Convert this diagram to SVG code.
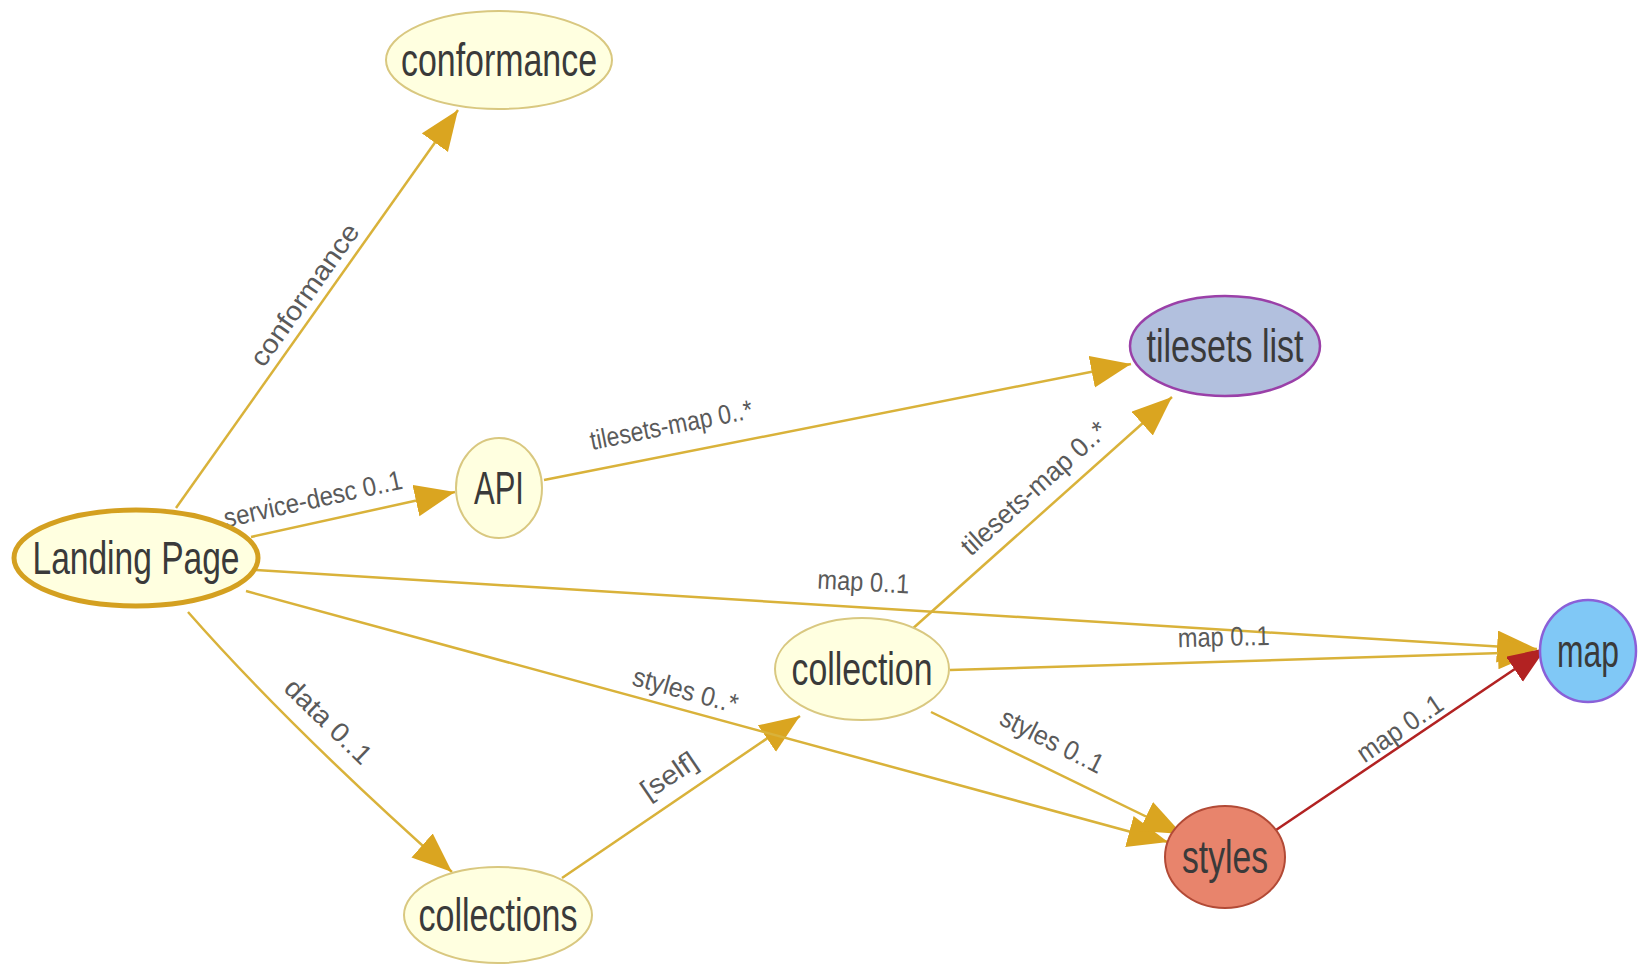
<svg xmlns="http://www.w3.org/2000/svg" width="1640" height="966" viewBox="0 0 1640 966">
<defs>
<marker id="ag" markerUnits="userSpaceOnUse" markerWidth="44" markerHeight="36" refX="40" refY="16" orient="auto">
<path d="M0,0 L40,16 L0,32 Z" fill="#DAA520"/>
</marker>
<marker id="ar" markerUnits="userSpaceOnUse" markerWidth="44" markerHeight="36" refX="38" refY="15" orient="auto">
<path d="M0,0 L38,15 L0,30 Z" fill="#B22222"/>
</marker>
<style>
.e{fill:none;stroke:#D9B23A;stroke-width:2.5;marker-end:url(#ag)}
.er{fill:none;stroke:#B22222;stroke-width:2.5;marker-end:url(#ar)}
.l{font-family:"Liberation Sans",Arial,sans-serif;font-size:27px;fill:#5a5a5a;text-anchor:middle}
.n{fill:#FFFFE0;stroke:#D9C880;stroke-width:2}
.t{font-family:"Liberation Sans",Arial,sans-serif;font-size:46px;fill:#3a3a3a;text-anchor:middle}
</style>
</defs>
<rect width="1640" height="966" fill="#fff"/>
<g id="connectors">
<path class="e" d="M176,508 L458,110"/>
<text class="l" transform="translate(312,300) rotate(-54.7)" textLength="168" lengthAdjust="spacingAndGlyphs">conformance</text>
<path class="e" d="M251,537 L455,492"/>
<text class="l" transform="translate(315,508) rotate(-12.4)" textLength="182" lengthAdjust="spacingAndGlyphs">service-desc 0..1</text>
<path class="e" d="M544,480 L1131,364"/>
<text class="l" transform="translate(673,434) rotate(-11.2)" textLength="165" lengthAdjust="spacingAndGlyphs">tilesets-map 0..*</text>
<path class="e" d="M256,570 L1537,649"/>
<text class="l" transform="translate(863,591) rotate(3)" textLength="92" lengthAdjust="spacingAndGlyphs">map 0..1</text>
<path class="e" d="M950,670 L1538,652"/>
<text class="l" transform="translate(1224,646) rotate(-1.5)" textLength="92" lengthAdjust="spacingAndGlyphs">map 0..1</text>
<path class="e" d="M188,612 Q290,728 452,872"/>
<text class="l" transform="translate(322,728) rotate(44)" textLength="110" lengthAdjust="spacingAndGlyphs">data 0..1</text>
<path class="e" d="M562,878 L800,716"/>
<text class="l" transform="translate(674,783) rotate(-34.2)" textLength="62" lengthAdjust="spacingAndGlyphs">[self]</text>
<path class="e" d="M246,591 L1168,842"/>
<text class="l" transform="translate(683,699) rotate(15.4)" textLength="108" lengthAdjust="spacingAndGlyphs">styles 0..*</text>
<path class="e" d="M910,631 L1172,397"/>
<text class="l" transform="translate(1040,495) rotate(-41.8)" textLength="186" lengthAdjust="spacingAndGlyphs">tilesets-map 0..*</text>
<path class="e" d="M931,712 L1182,834"/>
<text class="l" transform="translate(1048,749) rotate(26.7)" textLength="112" lengthAdjust="spacingAndGlyphs">styles 0..1</text>
<path class="er" d="M1276,830 L1546,648"/>
<text class="l" transform="translate(1405,736) rotate(-34.2)" textLength="98" lengthAdjust="spacingAndGlyphs">map 0..1</text>
</g>
<g id="conformance">
<ellipse class="n" cx="499" cy="60" rx="113" ry="49"/>
<text class="t" x="499" y="76" textLength="196" lengthAdjust="spacingAndGlyphs">conformance</text>
</g>
<g id="tilesets-list">
<ellipse cx="1225" cy="346" rx="95" ry="50" fill="#B2C0DE" stroke="#9A40A8" stroke-width="2.5"/>
<text class="t" x="1225" y="362" textLength="157" lengthAdjust="spacingAndGlyphs">tilesets list</text>
</g>
<g id="api">
<ellipse class="n" cx="499" cy="488" rx="43" ry="50"/>
<text class="t" x="499" y="504" textLength="50" lengthAdjust="spacingAndGlyphs">API</text>
</g>
<g id="landing-page">
<ellipse cx="136" cy="558" rx="122" ry="48" fill="#FFFFE0" stroke="#D4A020" stroke-width="5"/>
<text class="t" x="136" y="574" textLength="207" lengthAdjust="spacingAndGlyphs">Landing Page</text>
</g>
<g id="collection">
<ellipse class="n" cx="862" cy="669" rx="87" ry="51"/>
<text class="t" x="862" y="685" textLength="141" lengthAdjust="spacingAndGlyphs">collection</text>
</g>
<g id="map">
<ellipse cx="1588" cy="651" rx="48" ry="51" fill="#80C8F6" stroke="#8A60D8" stroke-width="2.5"/>
<text class="t" x="1588" y="667" textLength="62" lengthAdjust="spacingAndGlyphs">map</text>
</g>
<g id="styles">
<ellipse cx="1225" cy="857" rx="60" ry="51" fill="#E8846C" stroke="#B24A36" stroke-width="2"/>
<text class="t" x="1225" y="873" textLength="86" lengthAdjust="spacingAndGlyphs">styles</text>
</g>
<g id="collections">
<ellipse class="n" cx="498" cy="915" rx="94" ry="48"/>
<text class="t" x="498" y="931" textLength="159" lengthAdjust="spacingAndGlyphs">collections</text>
</g>
</svg>
